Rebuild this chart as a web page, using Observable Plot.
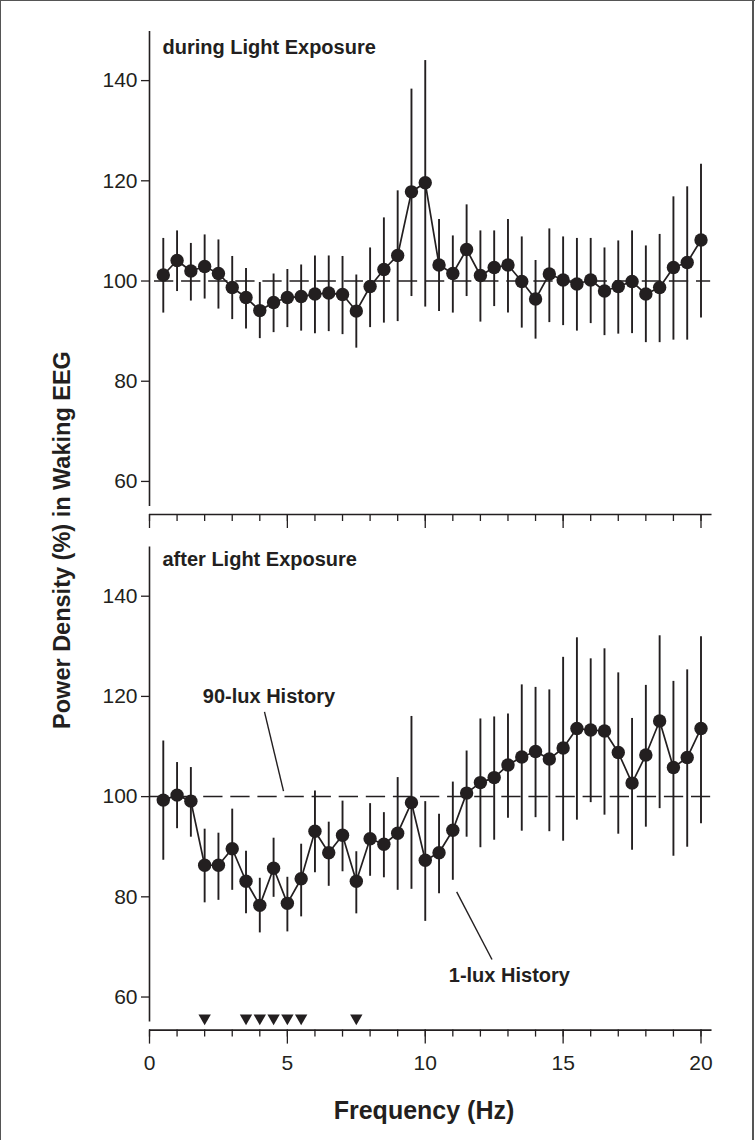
<!DOCTYPE html>
<html>
<head>
<meta charset="utf-8">
<script src="https://cdn.jsdelivr.net/npm/d3@7"></script>
<script src="https://cdn.jsdelivr.net/npm/@observablehq/plot@0.6"></script>
<style>
  html, body { margin: 0; padding: 0; background: #fff; }
  #wrap { position: relative; width: 755px; height: 1140px; overflow: hidden; background: #fff;
          font-family: "Liberation Sans Narrow", "Arial Narrow", "Liberation Sans", sans-serif; color: #231f20; }
  #wrap svg { position: absolute; left: 0; }
  .ytitle { position: absolute; left: 62px; top: 540px; transform: translate(-50%, -50%) rotate(-90deg);
            white-space: nowrap; font-weight: bold; font-size: 23.5px; }
  .xtitle { position: absolute; left: 424px; top: 1110px; transform: translate(-50%, -50%);
            white-space: nowrap; font-weight: bold; font-size: 25px; }
  .edge { position: absolute; background: #555; }
</style>
</head>
<body>
<div id="wrap"></div>
<script>
// ---- data ----
const freqs = [0.5, 1, 1.5, 2, 2.5, 3, 3.5, 4, 4.5, 5, 5.5, 6, 6.5, 7, 7.5, 8, 8.5, 9, 9.5, 10,
               10.5, 11, 11.5, 12, 12.5, 13, 13.5, 14, 14.5, 15, 15.5, 16, 16.5, 17, 17.5, 18, 18.5, 19, 19.5, 20];

const duringMean = [101.2, 104.1, 102.0, 102.9, 101.5, 98.7, 96.7, 94.1, 95.7, 96.7, 96.9, 97.4, 97.6, 97.3, 94.0, 98.9, 102.3, 105.1, 117.8, 119.6,
                    103.2, 101.5, 106.3, 101.1, 102.7, 103.2, 99.9, 96.4, 101.4, 100.2, 99.4, 100.2, 98.0, 98.9, 99.9, 97.4, 98.7, 102.7, 103.7, 108.2];
const duringHi = [108.5, 110.0, 107.5, 109.2, 108.2, 104.9, 102.5, 99.7, 101.4, 102.3, 103.2, 105.0, 105.0, 104.9, 101.2, 106.6, 112.6, 118.0, 138.3, 144.0,
                  112.3, 109.0, 115.2, 110.0, 110.0, 112.3, 108.8, 104.1, 110.4, 108.8, 108.5, 108.5, 106.6, 108.0, 110.0, 107.0, 109.3, 116.8, 118.8, 123.3];
const duringLo = [93.6, 97.9, 96.0, 96.4, 94.4, 92.3, 90.4, 88.5, 89.7, 90.7, 90.0, 89.5, 89.9, 89.3, 86.6, 90.7, 91.6, 91.9, 96.9, 94.8,
                  93.9, 93.6, 96.9, 91.8, 94.9, 93.6, 90.6, 88.4, 91.7, 91.1, 90.0, 91.5, 89.1, 89.4, 89.5, 87.7, 87.7, 88.2, 88.2, 92.6];

const afterMean = [99.3, 100.3, 99.1, 86.3, 86.3, 89.6, 83.1, 78.3, 85.7, 78.7, 83.6, 93.1, 88.8, 92.3, 83.1, 91.6, 90.5, 92.7, 98.8, 87.3,
                   88.8, 93.3, 100.7, 102.8, 103.8, 106.3, 107.9, 109.0, 107.5, 109.7, 113.6, 113.3, 113.1, 108.8, 102.7, 108.3, 115.1, 105.8, 107.8, 113.6];
const afterHi = [111.1, 106.8, 105.8, 93.5, 92.7, 97.5, 89.1, 83.7, 91.7, 83.9, 90.5, 101.1, 94.9, 99.1, 89.0, 98.6, 96.8, 103.8, 116.0, 99.0,
                 96.5, 102.9, 109.1, 115.5, 115.9, 116.5, 122.3, 121.8, 121.3, 127.8, 131.7, 127.5, 129.5, 124.7, 115.6, 122.2, 132.1, 123.0, 125.3, 131.9];
const afterLo = [87.3, 93.6, 91.9, 78.8, 79.3, 81.3, 76.6, 72.8, 79.9, 73.0, 76.0, 84.8, 82.1, 85.0, 76.6, 84.1, 83.8, 81.3, 81.5, 75.1,
                 80.6, 83.3, 91.9, 89.8, 91.3, 95.7, 93.1, 95.8, 93.0, 91.1, 95.3, 98.8, 96.3, 92.5, 89.3, 93.9, 97.6, 88.1, 89.9, 94.6];

// significant frequencies (triangles) and the level where they sit
const sigFreqs = [2, 3.5, 4, 4.5, 5, 5.5, 7.5];
const sigLevel = 55.8;

const yTicks = [60, 80, 100, 120, 140];
const xTicks = [0, 5, 10, 15, 20];
const xMinorTicks = [0, 1, 2, 3, 4, 5, 6, 7, 8, 9, 10, 11, 12, 13, 14, 15, 16, 17, 18, 19, 20];

const panelTitles = ["during Light Exposure", "after Light Exposure"];
const yTitle = "Power Density (%) in Waking EEG";
const xTitle = "Frequency (Hz)";

// annotation labels with leader lines (data coordinates)
const annotations = [
  { label: "90-lux History", x: 4.33, y: 119.9, x1: 4.17, y1: 116.9, x2: 4.86, y2: 101.1 },
  { label: "1-lux History",  x: 13.05, y: 64.3, x1: 11.14, y1: 81.0, x2: 12.42, y2: 67.5 }
];

// ---- build ----
const INK = "#231f20";
const FONT = '"Liberation Sans Narrow", "Arial Narrow", "Liberation Sans", sans-serif';
const yDomain = [53.4, 150];

const duringRows = freqs.map((f, i) => ({ f, m: duringMean[i], lo: duringLo[i], hi: duringHi[i] }));
const afterRows = freqs.map((f, i) => ({ f, m: afterMean[i], lo: afterLo[i], hi: afterHi[i] }));

function panel({ data, title, titleDy, height, marginTop, marginBottom, bottom, dashX1 }) {
  const marks = [
    Plot.ruleX([0], { y1: 55, y2: 149.8, stroke: INK, strokeWidth: 1.6 }),
    Plot.ruleY([yDomain[0]], { x1: 0, x2: 20.4, stroke: INK, strokeWidth: 1.6 }),
    Plot.axisY(yTicks, { tickSize: 8, tickPadding: 4, fontSize: 21, stroke: INK, fill: INK, strokeWidth: 1.3, label: null }),
    Plot.axisX(xMinorTicks, { tickSize: 7, fill: "none", stroke: INK, strokeWidth: 1.3, label: null }),
    bottom
      ? Plot.axisX(xTicks, { tickSize: 14, tickPadding: 11, fontSize: 21, stroke: INK, fill: INK, strokeWidth: 1.3, label: null })
      : Plot.axisX(xTicks, { tickSize: 14, fill: "none", stroke: INK, strokeWidth: 1.3, label: null }),
    Plot.ruleY([100], { x1: dashX1, x2: 20.35, stroke: INK, strokeWidth: 1.5, strokeDasharray: "19.3,7.8" }),
    Plot.ruleX(data, { x: "f", y1: "lo", y2: "hi", stroke: INK, strokeWidth: 1.9 }),
    Plot.line(data, { x: "f", y: "m", stroke: INK, strokeWidth: 1.7 }),
    Plot.dot(data, { x: "f", y: "m", r: 6.7, fill: INK, stroke: "none" }),
    Plot.text([title], { frameAnchor: "top-left", dx: 13, dy: titleDy, text: d => d, textAnchor: "start", lineAnchor: "middle",
                         fontSize: 20, fontWeight: "bold", fill: INK })
  ];
  if (bottom) {
    marks.push(
      Plot.dot(sigFreqs, { x: d => d, y: () => sigLevel, symbol: "triangle", rotate: 180, r: 4.6, fill: INK, stroke: "none" }),
      Plot.link(annotations, { x1: "x1", y1: "y1", x2: "x2", y2: "y2", stroke: INK, strokeWidth: 1.4 }),
      Plot.text(annotations, { x: "x", y: "y", text: "label", fontSize: 20, fontWeight: "bold", fill: INK })
    );
  }
  return Plot.plot({
    width: 755,
    height,
    marginLeft: 149,
    marginRight: 54.5,
    marginTop,
    marginBottom,
    style: { fontFamily: FONT, color: INK, background: "transparent", overflow: "visible" },
    x: { domain: [0, 20] },
    y: { domain: yDomain },
    marks
  });
}

const wrapEl = document.getElementById("wrap");

const topPlot = panel({ data: duringRows, title: panelTitles[0], titleDy: 17, height: 540, marginTop: 30, marginBottom: 26, bottom: false, dashX1: 0.18 });
topPlot.style.top = "0px";
wrapEl.appendChild(topPlot);

const bottomPlot = panel({ data: afterRows, title: panelTitles[1], titleDy: 13, height: 600, marginTop: 5.6, marginBottom: 110.4, bottom: true, dashX1: 0 });
bottomPlot.style.top = "540px";
wrapEl.appendChild(bottomPlot);

const ytEl = document.createElement("div");
ytEl.className = "ytitle"; ytEl.textContent = yTitle; wrapEl.appendChild(ytEl);
const xtEl = document.createElement("div");
xtEl.className = "xtitle"; xtEl.textContent = xTitle; wrapEl.appendChild(xtEl);

[["0px", "0px", "755px", "1px"], ["0px", "0px", "1px", "1140px"], ["752px", "0px", "2px", "1140px"]].forEach(([l, t, w, h]) => {
  const e = document.createElement("div");
  e.className = "edge";
  Object.assign(e.style, { left: l, top: t, width: w, height: h });
  wrapEl.appendChild(e);
});
</script>
</body>
</html>
